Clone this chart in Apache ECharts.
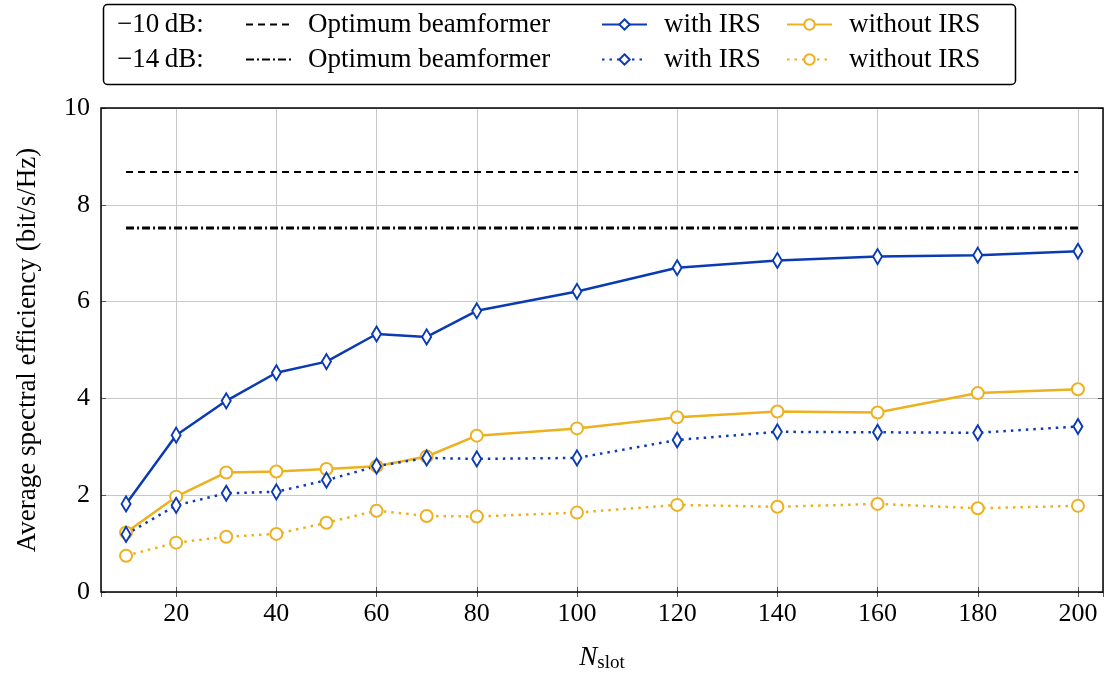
<!DOCTYPE html>
<html><head><meta charset="utf-8">
<script src="https://cdn.jsdelivr.net/npm/echarts@6/dist/echarts.min.js"></script>
<style>html,body{margin:0;padding:0;background:#fff}#c{width:1109px;height:675px}</style>
</head><body><div id="c"></div>
<script>
const nSlot = [10, 20, 30, 40, 50, 60, 70, 80, 100, 120, 140, 160, 180, 200];
const withIRS10 = [1.82, 3.24, 3.95, 4.53, 4.76, 5.33, 5.27, 5.81, 6.21, 6.70, 6.85, 6.93, 6.96, 7.04];
const withoutIRS10 = [1.23, 1.97, 2.47, 2.49, 2.54, 2.60, 2.80, 3.23, 3.38, 3.61, 3.73, 3.71, 4.11, 4.19];
const withIRS14 = [1.19, 1.79, 2.04, 2.07, 2.31, 2.60, 2.77, 2.75, 2.77, 3.14, 3.31, 3.30, 3.29, 3.42];
const withoutIRS14 = [0.75, 1.02, 1.14, 1.20, 1.43, 1.68, 1.57, 1.56, 1.64, 1.80, 1.76, 1.82, 1.73, 1.78];
const optimum10 = 8.68;
const optimum14 = 7.52;
const snrLabels = ['\u221210\u2009dB:', '\u221214\u2009dB:'];
const legendNames = ['Optimum beamformer', 'with IRS', 'without IRS'];

const FONT = '"Liberation Serif", "DejaVu Serif", serif';
const BLUE = '#0b3bb3';
const ORANGE = '#edb120';
const pairs = arr => nSlot.map((n, i) => [n, arr[i]]);
const flat = v => [[nSlot[0], v], [nSlot[nSlot.length - 1], v]];
const tag = (name, snr) => name + ' (' + snr + ')';

function lineSeries(name, data, color, type, width, symbol, size) {
  return {
    name: name, type: 'line', data: data,
    symbol: symbol || 'none', symbolSize: size || 0, showSymbol: !!symbol,
    lineStyle: { color: color, width: width, type: type },
    itemStyle: { color: '#fff', borderColor: color, borderWidth: 2 },
    emphasis: { disabled: true }, animation: false, z: 3
  };
}

const series = [
  lineSeries(tag(legendNames[0], 'a'), flat(optimum10), '#000', [7, 5], 2),
  lineSeries(tag(legendNames[1], 'a'), pairs(withIRS10), BLUE, 'solid', 2.5, 'diamond', [9, 15]),
  lineSeries(tag(legendNames[2], 'a'), pairs(withoutIRS10), ORANGE, 'solid', 2.5, 'circle', 12),
  lineSeries(tag(legendNames[0], 'b'), flat(optimum14), '#000', [8, 3, 2, 3], 3),
  lineSeries(tag(legendNames[1], 'b'), pairs(withIRS14), BLUE, [2.5, 5], 2.5, 'diamond', [9, 15]),
  lineSeries(tag(legendNames[2], 'b'), pairs(withoutIRS14), ORANGE, [2.5, 5], 2.5, 'circle', 12)
];

const legendLefts = [245, 601, 786];
const legendTops = [11, 46];
const legends = [];
['a', 'b'].forEach((snr, r) => {
  legendNames.forEach((nm, c) => {
    const item = { name: tag(nm, snr) };
    if (c === 0) item.itemStyle = { opacity: 0 };
    legends.push({
      data: [item], left: legendLefts[c], top: legendTops[r], padding: 0,
      itemWidth: 45, itemHeight: 13, selectedMode: false,
      formatter: n => n.replace(/ \(.\)$/, ''),
      textStyle: { fontFamily: FONT, fontSize: 27, color: '#000', padding: [0, 0, 0, 12] }
    });
  });
});

const chart = echarts.init(document.getElementById('c'), null, { renderer: 'canvas' });
chart.setOption({
  backgroundColor: '#fff',
  animation: false,
  grid: { left: 101, right: 6, top: 108, bottom: 83, outerBoundsMode: 'none', containLabel: false, show: true, borderColor: '#000', borderWidth: 1.5, backgroundColor: 'transparent', z: 4 },
  legend: legends,
  graphic: [
    { type: 'rect', left: 101, top: 2, z: 10, shape: { width: 912, height: 80, r: 4 }, style: { fill: 'none', stroke: '#000', lineWidth: 1.5 } },
    { type: 'text', left: 117, top: 11, z: 10, style: { text: snrLabels[0], font: '27px ' + FONT, fill: '#000' } },
    { type: 'text', left: 117, top: 46, z: 10, style: { text: snrLabels[1], font: '27px ' + FONT, fill: '#000' } }
  ],
  xAxis: [{
    type: 'value', min: 5, max: 205, splitNumber: 10,
    axisLine: { show: false },
    axisTick: { show: true, inside: true, length: 5, lineStyle: { color: '#555', width: 1 } },
    axisLabel: { fontFamily: FONT, fontSize: 26, color: '#000', margin: 9, showMinLabel: false, showMaxLabel: false },
    splitLine: { show: true, lineStyle: { color: '#c8c8c8', width: 1 } },
    name: '{i|N}{s|slot}', nameLocation: 'middle', nameGap: 50,
    nameTextStyle: { rich: { i: { fontFamily: FONT, fontStyle: 'italic', fontSize: 27, color: '#000' }, s: { fontFamily: FONT, fontSize: 19, color: '#000', verticalAlign: 'bottom', padding: [12, 0, 0, 0] } } }
  }, {
    type: 'value', min: 5, max: 205, splitNumber: 10, position: 'top',
    axisLine: { show: false }, axisLabel: { show: false }, splitLine: { show: false },
    axisTick: { show: true, inside: true, length: 5, lineStyle: { color: '#555', width: 1 } }
  }],
  yAxis: [{
    type: 'value', min: 0, max: 10, interval: 2,
    axisLine: { show: false },
    axisTick: { show: true, inside: true, length: 5, lineStyle: { color: '#555', width: 1 } },
    axisLabel: { fontFamily: FONT, fontSize: 26, color: '#000', margin: 11 },
    splitLine: { show: true, lineStyle: { color: '#c8c8c8', width: 1 } },
    name: 'Average spectral efficiency (bit/s/Hz)', nameLocation: 'middle', nameGap: 60, nameRotate: 90,
    nameTextStyle: { fontFamily: FONT, fontSize: 27, color: '#000' }
  }, {
    type: 'value', min: 0, max: 10, interval: 2, position: 'right',
    axisLine: { show: false }, axisLabel: { show: false }, splitLine: { show: false },
    axisTick: { show: true, inside: true, length: 5, lineStyle: { color: '#555', width: 1 } }
  }],
  series: series
});
</script></body></html>
